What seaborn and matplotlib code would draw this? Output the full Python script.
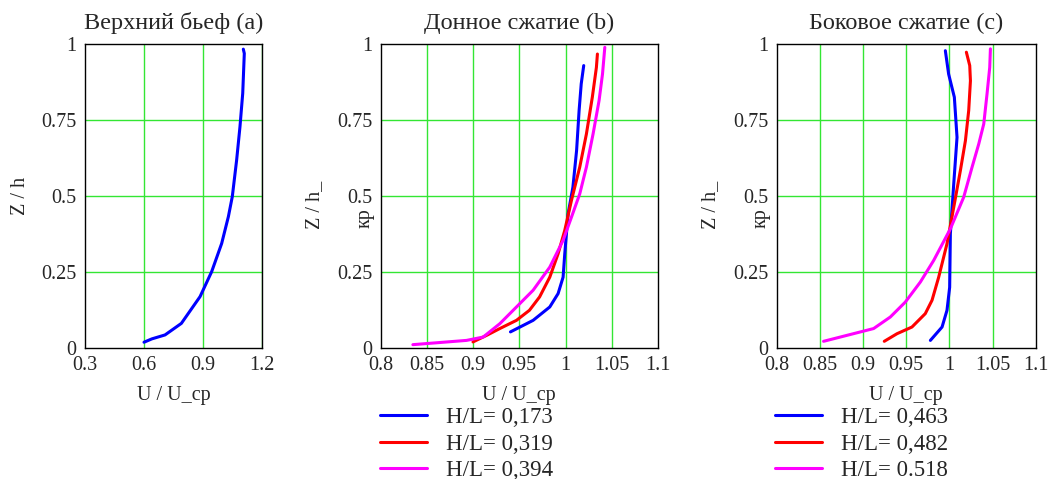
import numpy as np
import pandas as pd
import matplotlib
matplotlib.use("Agg")
import matplotlib.pyplot as plt
import seaborn as sns

# ---------------- data ----------------
# Panel (a): upstream pool
a_u = [0.600, 0.640, 0.707, 0.790, 0.885, 0.944, 0.995, 1.029, 1.049, 1.071, 1.088, 1.102, 1.110, 1.105]
a_z = [0.019, 0.030, 0.043, 0.081, 0.169, 0.251, 0.344, 0.432, 0.498, 0.618, 0.728, 0.838, 0.969, 0.983]

# Panel (b): bottom contraction
b1_u = [0.9405, 0.965, 0.983, 0.992, 0.9974, 0.9992, 1.0028, 1.008, 1.012, 1.0147, 1.017, 1.0197]
b1_z = [0.053, 0.091, 0.135, 0.179, 0.233, 0.310, 0.441, 0.529, 0.650, 0.781, 0.869, 0.929]
b2_u = [0.900, 0.915, 0.929, 0.947, 0.961, 0.972, 0.983, 0.992, 0.9992, 1.0064, 1.0154, 1.0226, 1.029, 1.0334, 1.0345]
b2_z = [0.020, 0.042, 0.064, 0.091, 0.124, 0.168, 0.233, 0.310, 0.387, 0.485, 0.595, 0.704, 0.825, 0.923, 0.967]
b3_u = [0.835, 0.864, 0.893, 0.911, 0.929, 0.947, 0.965, 0.983, 0.9974, 1.0064, 1.0154, 1.0226, 1.0298, 1.0363, 1.040, 1.0425]
b3_z = [0.011, 0.018, 0.025, 0.036, 0.080, 0.135, 0.190, 0.266, 0.354, 0.430, 0.507, 0.595, 0.704, 0.814, 0.901, 0.989]

# Panel (c): side contraction
c1_u = [0.9779, 0.9914, 0.9971, 1.0002, 1.001, 1.0049, 1.0087, 1.0056, 0.999, 0.9952]
c1_z = [0.025, 0.069, 0.124, 0.200, 0.376, 0.540, 0.693, 0.825, 0.901, 0.978]
c2_u = [0.9246, 0.9393, 0.9566, 0.972, 0.9798, 0.9875, 0.9971, 1.0049, 1.0126, 1.0184, 1.0222, 1.0242, 1.0234, 1.0195]
c2_z = [0.022, 0.047, 0.069, 0.113, 0.157, 0.233, 0.343, 0.463, 0.584, 0.682, 0.781, 0.879, 0.929, 0.973]
c3_u = [0.8544, 0.9123, 0.9316, 0.9489, 0.9663, 0.9817, 1.001, 1.0164, 1.0261, 1.0338, 1.0396, 1.0434, 1.0465, 1.0473]
c3_z = [0.022, 0.064, 0.102, 0.151, 0.217, 0.288, 0.392, 0.496, 0.595, 0.671, 0.737, 0.836, 0.923, 0.984]

titles = ["Верхний бьеф (a)", "Донное сжатие (b)", "Боковое сжатие (c)"]
b_labels = ["H/L= 0,173", "H/L= 0,319", "H/L= 0,394"]
c_labels = ["H/L= 0,463", "H/L= 0,482", "H/L= 0.518"]
a_xticks = [0.3, 0.6, 0.9, 1.2]
a_xticklabels = ["0.3", "0.6", "0.9", "1.2"]
bc_xticks = [0.8, 0.85, 0.9, 0.95, 1.0, 1.05, 1.1]
bc_xticklabels = ["0.8", "0.85", "0.9", "0.95", "1", "1.05", "1.1"]
yticks = [0, 0.25, 0.5, 0.75, 1.0]
yticklabels = ["0", "0.25", "0.5", "0.75", "1"]

colors = ["#0000ff", "#ff0000", "#ff00ff"]
grid_color = "#33e633"

# ---------------- style ----------------
sns.set_style("white")
plt.rcParams["font.family"] = ["Liberation Serif", "DejaVu Serif"]
plt.rcParams["axes.edgecolor"] = "black"

fig = plt.figure(figsize=(10.51, 4.79), dpi=100)
W, H = 1051, 479


def add_ax(left_px, right_px, top_px=44, bottom_px=348):
    return fig.add_axes([left_px / W, 1 - bottom_px / H,
                         (right_px - left_px) / W, (bottom_px - top_px) / H])


ax_a = add_ax(85, 262)
ax_b = add_ax(380.5, 658)
ax_c = add_ax(776.5, 1036)


def style_axis(ax, xlim, xticks, xticklabels, xgrid, title):
    ax.set_xlim(*xlim)
    ax.set_ylim(0, 1)
    ax.set_xticks(xticks)
    ax.set_xticklabels(xticklabels)
    ax.set_yticks(yticks)
    ax.set_yticklabels(yticklabels)
    ax.tick_params(length=0, labelsize=14.5, pad=6)
    for g in xgrid:
        ax.axvline(g, color=grid_color, lw=1.0, zorder=0)
    for g in [0.25, 0.5, 0.75]:
        ax.axhline(g, color=grid_color, lw=1.0, zorder=0)
    for s in ax.spines.values():
        s.set_color("black")
        s.set_linewidth(1.0)
    ax.set_title(title, fontsize=17.5, pad=11)
    ax.set_xlabel("U / U_cp", fontsize=14.5, labelpad=8)


def draw(ax, us, zs, cols, labels):
    for u, z, c, lab in zip(us, zs, cols, labels):
        df = pd.DataFrame({"u": u, "z": z})
        sns.lineplot(data=df, x="u", y="z", ax=ax, sort=False, estimator=None,
                     color=c, lw=2.2, label=lab, legend=False)


draw(ax_a, [a_u], [a_z], [colors[0]], [None])
draw(ax_b, [b1_u, b2_u, b3_u], [b1_z, b2_z, b3_z], colors, b_labels)
draw(ax_c, [c1_u, c2_u, c3_u], [c1_z, c2_z, c3_z], colors, c_labels)

style_axis(ax_a, (0.3, 1.2), a_xticks, a_xticklabels, [0.6, 0.9, 1.2], titles[0])
style_axis(ax_b, (0.8, 1.1), bc_xticks, bc_xticklabels, [0.85, 0.9, 0.95, 1.0, 1.05], titles[1])
style_axis(ax_c, (0.8, 1.1), bc_xticks, bc_xticklabels, [0.85, 0.9, 0.95, 1.0, 1.05], titles[2])

# y labels
ax_a.set_ylabel("Z / h", fontsize=14.5, labelpad=8)
for ax, left in [(ax_b, 380.5), (ax_c, 776.5)]:
    ax.set_ylabel("")
    fig.text((left - 66) / W, 1 - 205 / H, "Z / h_", rotation=90, fontsize=14.5,
             ha="center", va="center")
    fig.text((left - 15) / W, 1 - 218 / H, "кр", rotation=90, fontsize=14.5,
             ha="center", va="center")

# legends
for ax, left in [(ax_b, 380), (ax_c, 775)]:
    h, l = ax.get_legend_handles_labels()
    fig.legend(h, l, loc="upper left", bbox_to_anchor=(left / W, 1 - 407 / H),
               frameon=False, fontsize=16.5, handlelength=2.05, handletextpad=0.83,
               labelspacing=0.24, borderpad=0, borderaxespad=0)

fig.savefig("out.png", dpi=100)
